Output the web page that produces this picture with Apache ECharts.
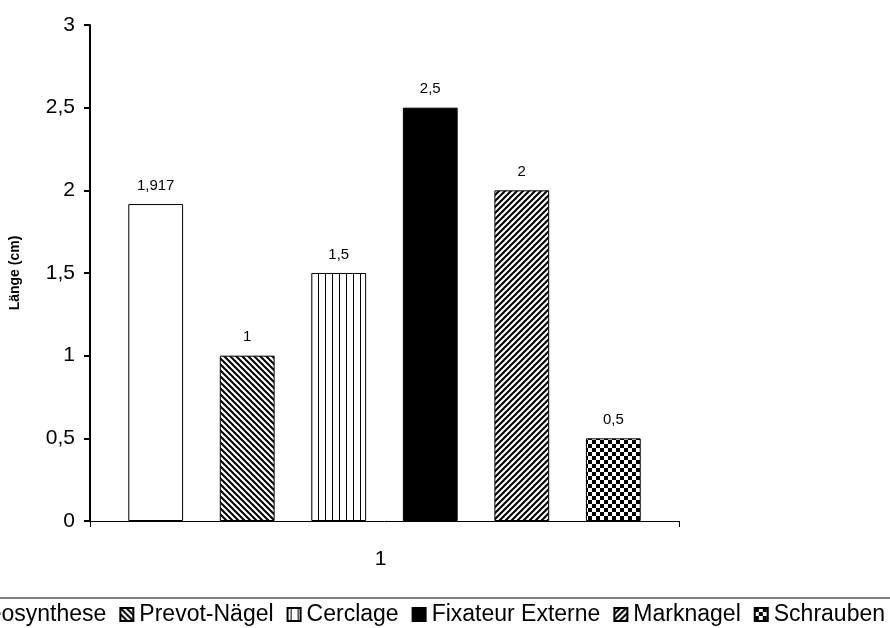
<!DOCTYPE html>
<html>
<head>
<meta charset="utf-8">
<script src="https://cdn.jsdelivr.net/npm/echarts@6/dist/echarts.min.js"></script>
<style>
  html, body { margin: 0; padding: 0; background: #fff; }
  #chart { width: 890px; height: 628px; }
</style>
</head>
<body>
<div id="chart"></div>
<script>
// Values and labels
const categories = ['1'];
const seriesNames = ['Plattenosteosynthese', 'Prevot-Nägel', 'Cerclage', 'Fixateur Externe', 'Marknagel', 'Schrauben'];
const seriesValues = [1.917, 1, 1.5, 2.5, 2, 0.5];
const yTicks = [0, 0.5, 1, 1.5, 2, 2.5, 3];

const FONT = '"Liberation Sans", Arial, Helvetica, sans-serif';

// Small tile canvases used as repeating fills
function tile(w, h, draw) {
  const c = document.createElement('canvas');
  c.width = w; c.height = h;
  const ctx = c.getContext('2d');
  ctx.fillStyle = '#fff';
  ctx.fillRect(0, 0, w, h);
  ctx.fillStyle = '#000';
  ctx.strokeStyle = '#000';
  draw(ctx, w, h);
  return { image: c, repeat: 'repeat' };
}

function diagonal(n, back) {
  return tile(n, n, (ctx) => {
    ctx.lineWidth = 2;
    const segs = back
      ? [[-n, 0, n, 2 * n], [0, 0, n, n], [0, -n, 2 * n, n]]
      : [[0, n, n, 0], [-n, n, n, -n], [0, 2 * n, 2 * n, 0]];
    segs.forEach(s => { ctx.beginPath(); ctx.moveTo(s[0], s[1]); ctx.lineTo(s[2], s[3]); ctx.stroke(); });
  });
}

const fills = [
  '#ffffff',
  diagonal(6, true),
  tile(7, 7, (ctx) => { ctx.fillRect(3, 0, 1, 7); }),
  '#000000',
  diagonal(6, false),
  tile(8, 8, (ctx) => { ctx.fillRect(0, 0, 4, 4); ctx.fillRect(4, 4, 4, 4); })
];

const fmt = v => String(v).replace('.', ',');

const chart = echarts.init(document.getElementById('chart'), null, { renderer: 'canvas' });

chart.setOption({
  animation: false,
  backgroundColor: '#ffffff',
  textStyle: { fontFamily: FONT },
  grid: { left: 89, right: 211, top: 25, bottom: 107 },
  legend: {
    data: seriesNames,
    right: -4,
    top: 598,
    width: 1400,
    padding: [5, 9, 20, 10],
    itemGap: 13,
    itemWidth: 13,
    itemHeight: 13,
    icon: 'rect',
    borderColor: '#808080',
    borderWidth: 2,
    textStyle: { fontFamily: FONT, fontSize: 23, color: '#000', padding: [0, 0, 0, 1] }
  },
  xAxis: {
    type: 'category',
    data: categories,
    axisLine: { lineStyle: { color: '#000', width: 1 } },
    axisTick: { show: true, length: 6, lineStyle: { color: '#000', width: 1 } },
    axisLabel: { color: '#000', fontSize: 21, fontFamily: FONT, margin: 28, padding: [0, 8, 0, 0] }
  },
  yAxis: {
    type: 'value',
    min: 0,
    max: 3,
    interval: 0.5,
    name: 'Länge (cm)',
    nameLocation: 'middle',
    nameRotate: 90,
    nameGap: 68,
    nameTextStyle: { color: '#000', fontSize: 14, fontWeight: 'bold', fontFamily: FONT },
    splitLine: { show: false },
    axisLine: { show: true, lineStyle: { color: '#000', width: 2 } },
    axisTick: { show: true, length: 6, lineStyle: { color: '#000', width: 2 } },
    axisLabel: {
      color: '#000', fontSize: 21, fontFamily: FONT, margin: 15,
      formatter: v => fmt(v)
    }
  },
  series: seriesNames.map((name, i) => ({
    name: name,
    type: 'bar',
    barGap: '67%',
    barCategoryGap: '13%',
    data: [seriesValues[i]],
    itemStyle: { color: fills[i], borderColor: '#000', borderWidth: 1 },
    label: {
      show: true,
      position: 'top',
      distance: 11,
      color: '#000',
      fontSize: 15,
      fontFamily: FONT,
      formatter: p => fmt(p.value)
    }
  }))
});
</script>
</body>
</html>
